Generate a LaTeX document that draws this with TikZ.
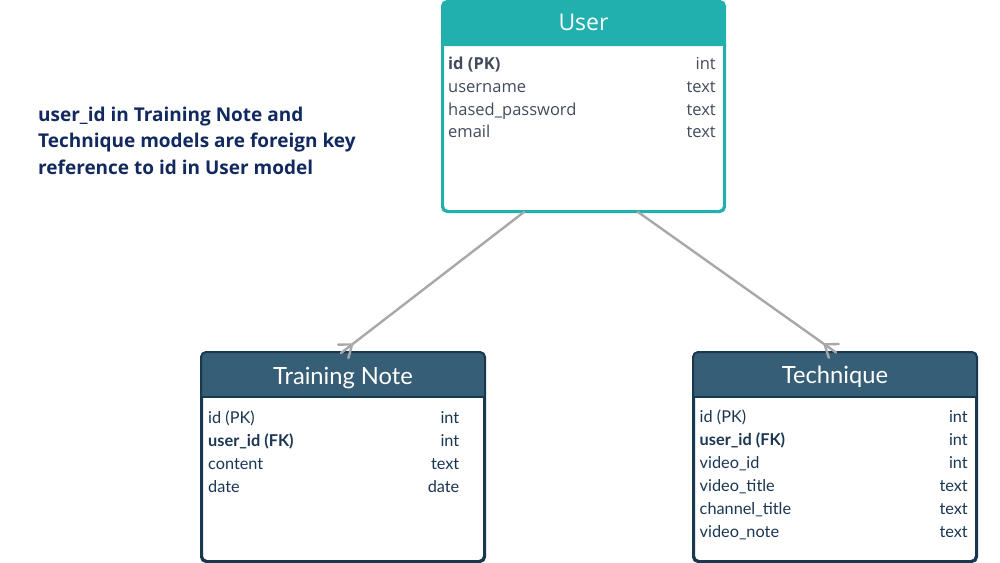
\documentclass[tikz,border=0pt]{standalone}
\usepackage{fontspec}
\usetikzlibrary{calc}
\newfontfamily\opensans{Open Sans}
\newfontfamily\lato{Lato}
\definecolor{tealhd}{RGB}{34,176,175}
\definecolor{userrow}{RGB}{66,75,92}
\definecolor{tabhd}{RGB}{54,94,119}
\definecolor{tabbd}{RGB}{24,56,80}
\definecolor{tabrow}{RGB}{26,54,82}
\definecolor{notecol}{RGB}{18,41,96}
\definecolor{conncol}{RGB}{168,168,168}

\begin{document}
\begin{tikzpicture}[line cap=round,line join=round,x=1pt,y=-1pt,
  tbl/.style={draw,fill=white,rounded corners=5pt,line width=2pt,inner sep=0pt,anchor=north west},
  ufield/.style={anchor=base west,inner sep=0pt,text=userrow,font=\opensans\fontsize{16.5}{20}\selectfont},
  utype/.style={ufield,anchor=base east},
  tfield/.style={anchor=base west,inner sep=0pt,text=tabrow,font=\lato\fontsize{16.3}{20}\selectfont},
  ttype/.style={tfield,anchor=base east},
  ttitle/.style={anchor=base,inner sep=0pt,text=white,font=\lato\fontsize{23.7}{28}\selectfont},
  conn/.style={draw=conncol,line width=2.4pt}]
  \useasboundingbox (0,0) rectangle (1000,562);

  % tables
  \node[tbl,draw=tealhd,minimum width=281pt,minimum height=209pt] (user) at (442,1) {};
  \fill[tealhd,rounded corners=5pt] (user.north west) rectangle ($(user.north east)+(0,45)$);
  \fill[tealhd] ($(user.north west)+(0,20)$) rectangle ($(user.north east)+(0,45)$);
  \draw[tealhd,line width=2pt,rounded corners=5pt] (user.north west) rectangle (user.south east);
  \node[text=white,inner sep=0pt,font=\opensans\fontsize{23}{28}\selectfont] (user-title) at ($(user.north)+(0,21.5)$) {User};

  \node[tbl,draw=tabbd,minimum width=282pt,minimum height=208pt] (tn) at (201,352) {};
  \fill[tabhd,rounded corners=5pt] (tn.north west) rectangle ($(tn.north east)+(0,45)$);
  \fill[tabhd] ($(tn.north west)+(0,20)$) rectangle ($(tn.north east)+(0,45)$);
  \draw[tabbd,line width=2pt] ($(tn.north west)+(0,45)$) -- ($(tn.north east)+(0,45)$);
  \draw[tabbd,line width=2pt,rounded corners=5pt] (tn.north west) rectangle (tn.south east);
  \node[ttitle] (tn-title) at ($(tn.north)+(0,32)$) {Training Note};

  \node[tbl,draw=tabbd,minimum width=282pt,minimum height=208pt] (te) at (693,352) {};
  \fill[tabhd,rounded corners=5pt] (te.north west) rectangle ($(te.north east)+(0,45)$);
  \fill[tabhd] ($(te.north west)+(0,20)$) rectangle ($(te.north east)+(0,45)$);
  \draw[tabbd,line width=2pt] ($(te.north west)+(0,45)$) -- ($(te.north east)+(0,45)$);
  \draw[tabbd,line width=2pt,rounded corners=5pt] (te.north west) rectangle (te.south east);
  \node[ttitle] (te-title) at ($(te.north)+(0,31.3)$) {Technique};

  % fields
  \foreach \fld/\typ [count=\i] in {{\bfseries id (PK)}/int,username/text,hased\_password/text,email/text}{
    \node[ufield] (user-f\i) at (448,{69.5+22.8*(\i-1)}) {\fld};
    \node[utype] (user-t\i) at (716,{69.5+22.8*(\i-1)}) {\typ};
  }
  \foreach \fld/\typ [count=\i] in {id (PK)/int,{\bfseries user\_id (FK)}/int,content/text,date/date}{
    \node[tfield] (tn-f\i) at (208,{423.3+23*(\i-1)}) {\fld};
    \node[ttype] (tn-t\i) at (459.5,{423.3+23*(\i-1)}) {\typ};
  }
  \foreach \fld/\typ [count=\i] in {id (PK)/int,{\bfseries user\_id (FK)}/int,video\_id/int,video\_title/text,channel\_title/text,video\_note/text}{
    \node[tfield] (te-f\i) at (699.5,{422.3+23*(\i-1)}) {\fld};
    \node[ttype] (te-t\i) at (968,{422.3+23*(\i-1)}) {\typ};
  }

  % note
  \foreach \ln [count=\i] in {user\_id in Training Note and,Technique models are foreign key,reference to id in User model}{
    \node[anchor=base west,inner sep=0pt,text=notecol,font=\opensans\bfseries\fontsize{19}{24}\selectfont] (note\i) at (38,{121.7+26.2*(\i-1)}) {\ln};
  }

  % relations
  \coordinate (user-a) at ($(user.south west)+(82,0)$);
  \coordinate (user-b) at ($(user.south west)+(196,0)$);
  \coordinate (tn-a) at ($(tn.north west)+(140,1)$);
  \coordinate (te-a) at ($(te.north west)+(143,0.5)$);
  \draw[conn] (user-a) -- (tn-a);
  \draw[conn] (user-b) -- (te-a);
  \coordinate (tn-s) at ($(tn-a)!14pt!(user-a)$);
  \coordinate (te-s) at ($(te-a)!14pt!(user-b)$);
  \draw[conn] ($(tn-s)!1!37:(tn-a)$) -- (tn-s) -- ($(tn-s)!1!-37:(tn-a)$);
  \draw[conn] ($(te-s)!1!37:(te-a)$) -- (te-s) -- ($(te-s)!1!-37:(te-a)$);
\end{tikzpicture}
\end{document}
